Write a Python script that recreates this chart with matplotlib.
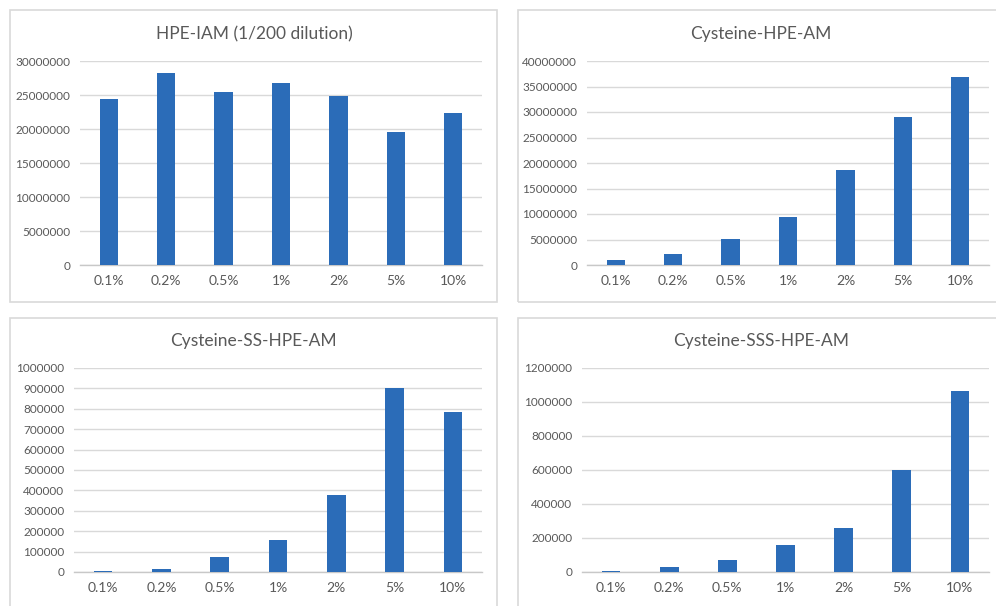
import matplotlib
matplotlib.use("Agg")
from matplotlib import pyplot as plt
from matplotlib.patches import Rectangle
from matplotlib.ticker import FuncFormatter

plt.rcParams['font.family'] = ['Lato', 'DejaVu Sans']

# 浓度分组和四个产物的峰面积
concentrations = ['0.1%', '0.2%', '0.5%', '1%', '2%', '5%', '10%']
hpe_iam = [24400000, 28200000, 25500000, 26800000, 24900000, 19500000, 22300000]
cys_hpe_am = [920000, 2160000, 5030000, 9480000, 18600000, 29000000, 36900000]
cys_ss_hpe_am = [7000, 15000, 74000, 157000, 376000, 900000, 783000]
cys_sss_hpe_am = [8000, 27000, 71000, 161000, 257000, 598000, 1063000]

titles = ['HPE-IAM (1/200 dilution)', 'Cysteine-HPE-AM',
          'Cysteine-SS-HPE-AM', 'Cysteine-SSS-HPE-AM']
series = [hpe_iam, cys_hpe_am, cys_ss_hpe_am, cys_sss_hpe_am]
y_max = [30000000, 40000000, 1000000, 1200000]
y_step = [5000000, 5000000, 100000, 200000]

W, H = 996, 606
fig = plt.figure(figsize=(W / 100, H / 100), dpi=100)
fig.patch.set_facecolor('white')

# 每个图的位置（像素）：外框、绘图区、标题中心
frames = [(10, 10, 497, 302), (518, 10, 1010, 302),
          (10, 318, 497, 620), (518, 318, 1010, 620)]
plots = [(80, 61, 482, 265), (587, 61, 989, 265),
         (74, 368, 482, 572), (582, 368, 989, 572)]
title_pos = [(254, 34), (761, 34), (253, 341), (761, 341)]

grey = '#595959'
bar_color = '#2B6CB8'

for i in range(4):
    fx0, fy0, fx1, fy1 = frames[i]
    fig.patches.append(Rectangle((fx0 / W, 1 - fy1 / H), (fx1 - fx0) / W, (fy1 - fy0) / H,
                                 transform=fig.transFigure, fill=False,
                                 edgecolor='#D9D9D9', linewidth=1.2, zorder=0))
    x0, y0, x1, y1 = plots[i]
    ax = fig.add_axes([x0 / W, 1 - y1 / H, (x1 - x0) / W, (y1 - y0) / H])
    xs = range(len(concentrations))
    ax.bar(xs, series[i], width=0.32, color=bar_color, zorder=3)
    ax.set_xlim(-0.5, len(concentrations) - 0.5)
    ax.set_ylim(0, y_max[i])
    ax.set_yticks(range(0, y_max[i] + 1, y_step[i]))
    ax.yaxis.set_major_formatter(FuncFormatter(lambda v, p: '%d' % v))
    ax.set_xticks(list(xs))
    ax.set_xticklabels(concentrations)
    ax.grid(axis='y', color='#D9D9D9', linewidth=1, zorder=0)
    for s in ['top', 'right', 'left']:
        ax.spines[s].set_visible(False)
    ax.spines['bottom'].set_color('#C8C8C8')
    ax.spines['bottom'].set_linewidth(1)
    ax.tick_params(axis='y', length=0, pad=7, labelsize=8.5, labelcolor=grey)
    ax.tick_params(axis='x', length=0, pad=7, labelsize=10, labelcolor=grey)
    tx, ty = title_pos[i]
    fig.text(tx / W, 1 - ty / H, titles[i], ha='center', va='center',
             fontsize=12.5, color=grey)

plt.savefig('out.png', dpi=100, facecolor='white')
